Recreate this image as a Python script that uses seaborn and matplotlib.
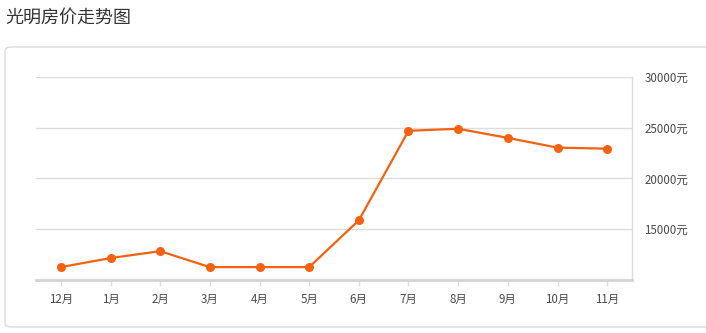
import matplotlib
matplotlib.use("Agg")
import matplotlib.pyplot as plt
import seaborn as sns
import pandas as pd
from matplotlib.patches import FancyBboxPatch

months = ["12月", "1月", "2月", "3月", "4月", "5月", "6月", "7月", "8月", "9月", "10月", "11月"]
prices = [11270, 12160, 12840, 11270, 11270, 11270, 15880, 24700, 24900, 24000, 23040, 22940]
yticks = [15000, 20000, 25000, 30000]
ytick_labels = ["15000元", "20000元", "25000元", "30000元"]
title = "光明房价走势图"

sns.set_theme(style="white")
plt.rcParams['font.family'] = ['Noto Sans CJK SC', 'DejaVu Sans']

W, H = 706, 333
fig = plt.figure(figsize=(W / 100, H / 100), dpi=100)

# outer rounded panel
box = FancyBboxPatch((5 / W, 1 - 327 / H), (W + 10) / W, (327 - 47) / H,
                     boxstyle="round,pad=0,rounding_size=0.01",
                     transform=fig.transFigure, facecolor="white",
                     edgecolor="#dcdcdc", linewidth=1.0, zorder=-5)
fig.patches.append(box)

fig.text(5 / W, 1 - 18 / H, title, fontsize=13, color="#333333", va="center", ha="left")

ax = fig.add_axes([36 / W, 1 - 280 / H, (632 - 36) / W, (280 - 77) / H])
ax.set_zorder(2)
ax.set_facecolor("none")

df = pd.DataFrame({"month": months, "price": prices})
df["pos"] = range(len(months))
sns.lineplot(data=df, x="pos", y="price", ax=ax, color="#f5620f", linewidth=1.6,
             marker="o", markersize=6.5, markeredgewidth=0, markerfacecolor="#f5620f")

ax.set_xlim(-0.5, len(months) - 0.5)
ax.set_ylim(10000, 30000)
ax.set_xticks(range(len(months)))
ax.set_xticklabels(months)
ax.set_yticks(yticks)
ax.set_yticklabels(ytick_labels)
ax.yaxis.tick_right()
ax.set_xlabel("")
ax.set_ylabel("")

ax.grid(axis="y", color="#dddddd", linewidth=1)
ax.grid(axis="x", visible=False)
for s in ["top", "left"]:
    ax.spines[s].set_visible(False)
ax.spines["right"].set_visible(True)
ax.spines["right"].set_color("#dddddd")
ax.spines["right"].set_linewidth(1)
ax.spines["bottom"].set_visible(True)
ax.spines["bottom"].set_color("#d4d4d4")
ax.spines["bottom"].set_linewidth(2)

ax.tick_params(axis="x", which="both", bottom=True, length=4, width=1, color="#dddddd",
               labelsize=8.3, labelcolor="#4a4a4a", pad=5, direction="out")
ax.tick_params(axis="y", which="both", right=False, length=0, labelsize=8.3,
               labelcolor="#4a4a4a", pad=9)

fig.savefig("out.png", dpi=100)
